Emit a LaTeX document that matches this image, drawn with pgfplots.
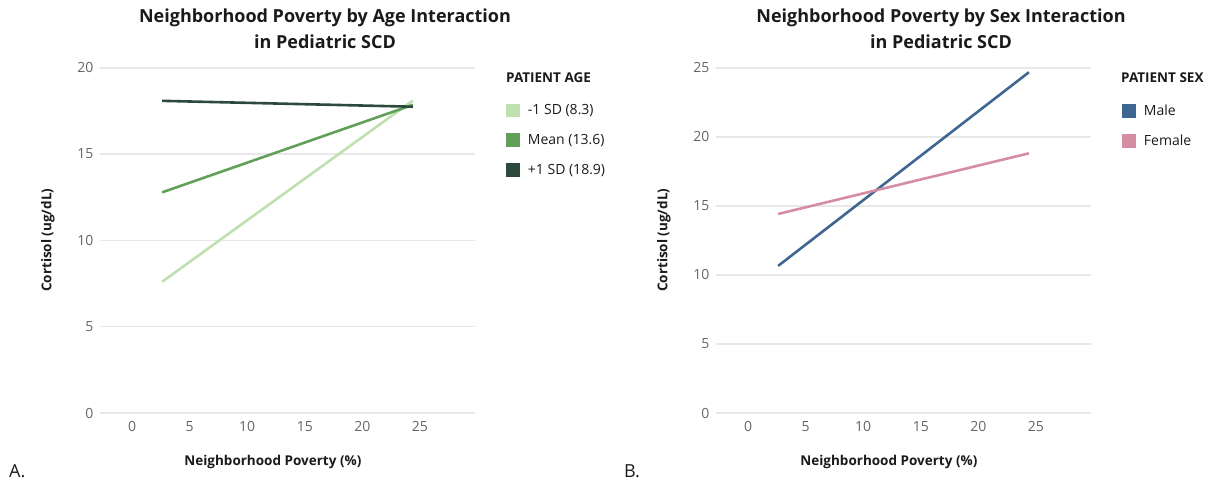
\documentclass[border=0pt]{standalone}
\usepackage{pgfplots}
\pgfplotsset{compat=1.18}
\usepackage{fontspec}
\setmainfont{Open Sans}
\definecolor{gridc}{HTML}{E8E8E8}
\definecolor{tickc}{HTML}{666666}
\definecolor{sdlo}{HTML}{BFE0AF}
\definecolor{sdmean}{HTML}{62A05A}
\definecolor{sdhi}{HTML}{2C4A3C}
\definecolor{male}{HTML}{3E6690}
\definecolor{female}{HTML}{D48DA2}
\definecolor{txt}{HTML}{1A1A1A}
\pgfplotsset{
  panel/.style={
    scale only axis, width=375pt, height=345.3pt,
    xmin=-2.8, xmax=29.8, ymin=0,
    xtick={0,5,10,15,20,25},
    axis line style={draw=none}, tick style={draw=none},
    ymajorgrids, major grid style={gridc, line width=1.6pt},
    /pgf/number format/assume math mode=true,
    ticklabel style={font=\fontsize{14}{16}\selectfont, text=tickc},
    xticklabel style={yshift=-5pt},
    yticklabel style={xshift=-3pt},
    xlabel={\textbf{Neighborhood Poverty (\%)}},
    ylabel={\textbf{Cortisol (ug/dL)}},
    label style={font=\fontsize{13.5}{15}\selectfont, text=txt},
    ylabel style={at={(rel axis cs:-0.139,0.5)}, anchor=center},
    xlabel style={at={(rel axis cs:0.461,-0.142)}, anchor=center},
    title style={at={(rel axis cs:0.6,1.095)}, anchor=center, align=center,
      font=\fontsize{18}{26}\selectfont\bfseries, text=txt},
    clip=false,
    legend cell align=left,
    legend style={draw=none, fill=none, inner sep=0pt,
      font=\fontsize{14}{16}\selectfont, text=txt,
      row sep=14pt,
      /tikz/every odd column/.append style={column sep=6pt}},
    legend image code/.code={\fill[#1] (0pt,-5.5pt) rectangle (11pt,5.5pt);},
  }
}
\begin{document}
\begin{tikzpicture}
\path (0,0) rectangle (1213pt,483pt);
\begin{axis}[panel, at={(100pt,70pt)}, anchor=south west,
  ymax=20, ytick={0,5,10,15,20},
  title={Neighborhood Poverty by Age Interaction\\in Pediatric SCD},
  legend style={at={(rel axis cs:1.083,0.899)}, anchor=north west}]
\addplot[sdlo, line width=2.6pt] coordinates {(2.6,7.6) (24.4,18.1)};
\addlegendentry{-1 SD (8.3)}
\addplot[sdmean, line width=2.6pt] coordinates {(2.6,12.78) (24.4,17.85)};
\addlegendentry{Mean (13.6)}
\addplot[sdhi, line width=2.6pt] coordinates {(2.6,18.08) (24.4,17.74)};
\addlegendentry{+1 SD (18.9)}
\end{axis}
\node[anchor=west, font=\fontsize{13.5}{15}\selectfont\bfseries, text=txt, inner sep=0pt] at (506pt,405pt) {PATIENT AGE};
\begin{axis}[panel, at={(716pt,70pt)}, anchor=south west,
  ymax=25, ytick={0,5,10,15,20,25},
  title={Neighborhood Poverty by Sex Interaction\\in Pediatric SCD},
  legend style={at={(rel axis cs:1.083,0.899)}, anchor=north west}]
\addplot[male, line width=2.6pt] coordinates {(2.6,10.65) (24.4,24.67)};
\addlegendentry{Male}
\addplot[female, line width=2.6pt] coordinates {(2.6,14.41) (24.4,18.8)};
\addlegendentry{Female}
\end{axis}
\node[anchor=west, font=\fontsize{13.5}{15}\selectfont\bfseries, text=txt, inner sep=0pt] at (1121pt,405pt) {PATIENT SEX};
\node[anchor=west, font=\fontsize{18}{20}\selectfont, text=txt, inner sep=0pt] at (9pt,12pt) {A.};
\node[anchor=west, font=\fontsize{18}{20}\selectfont, text=txt, inner sep=0pt] at (624pt,12pt) {B.};
\end{tikzpicture}
\end{document}
